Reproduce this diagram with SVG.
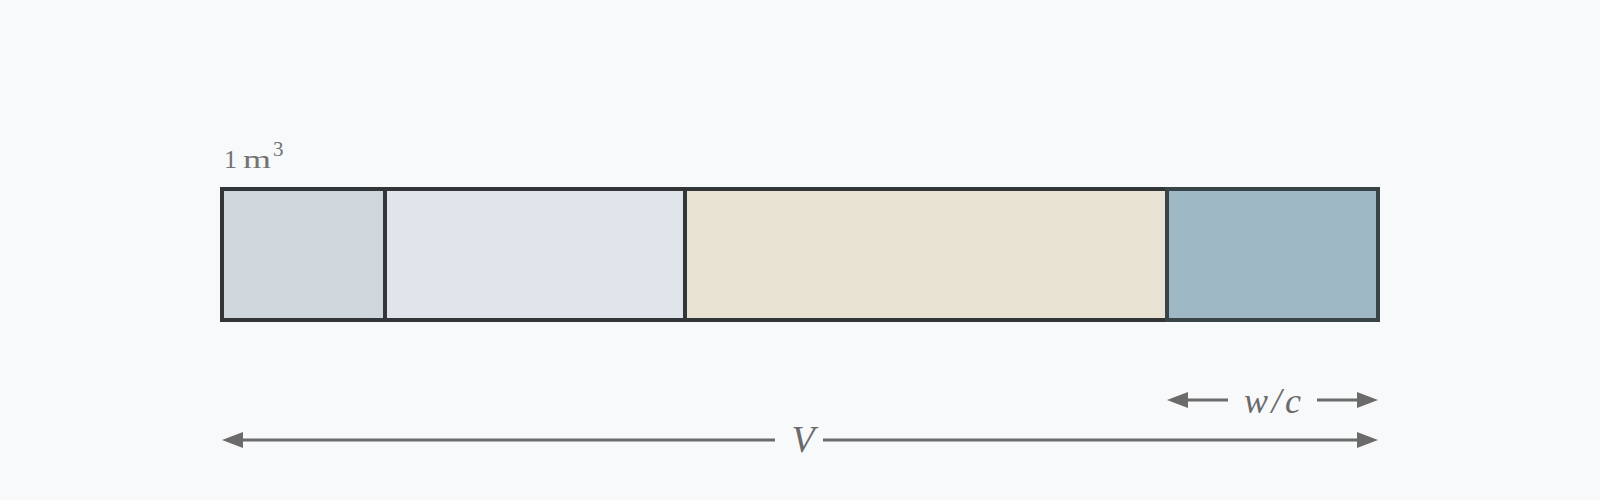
<svg xmlns="http://www.w3.org/2000/svg" width="1600" height="500" viewBox="0 0 1600 500">
  <defs>
    <marker id="ah" viewBox="0 0 21 16" refX="10" refY="8" markerWidth="21" markerHeight="16" markerUnits="userSpaceOnUse" orient="auto-start-reverse">
      <path d="M0,0 L21,8 L0,16 z" fill="#6b6b6b"/>
    </marker>
  </defs>
  <style>
    .cell { stroke: #333638; stroke-width: 4; }
    .dim { stroke: #6b6b6b; stroke-width: 3; fill: none; }
    .lbl { font-family: "Liberation Serif", "Times New Roman", serif; fill: #737373; }
    .math { font-family: "Liberation Serif", "Times New Roman", serif; font-style: italic; fill: #6b6b6b; }
  </style>
  <rect x="0" y="0" width="1600" height="500" fill="#f8f9fb"/>

  <g id="cell-1">
    <rect class="cell" x="222" y="189" width="163" height="131" fill="#cfd7dd"/>
  </g>
  <g id="cell-2">
    <rect class="cell" x="385" y="189" width="300" height="131" fill="#dfe5ea"/>
  </g>
  <g id="cell-3">
    <rect class="cell" x="685" y="189" width="482" height="131" fill="#e8e3d3"/>
  </g>
  <g id="cell-4">
    <rect x="1167" y="189" width="211" height="131" fill="#9eb8c5" stroke="#3a4447" stroke-width="4"/>
  </g>

  <g id="label-1m3">
    <text class="lbl" x="224" y="168" font-size="26">1</text>
    <text class="lbl" x="243" y="168" font-size="26" textLength="28" lengthAdjust="spacingAndGlyphs">m</text>
    <text class="lbl" x="273" y="156" font-size="21">3</text>
  </g>

  <g id="connectors">
    <line class="dim" x1="1178" y1="400" x2="1228" y2="400" marker-start="url(#ah)"/>
    <line class="dim" x1="1317" y1="400" x2="1367" y2="400" marker-end="url(#ah)"/>
    <line class="dim" x1="233" y1="440" x2="775" y2="440" marker-start="url(#ah)"/>
    <line class="dim" x1="823" y1="440" x2="1367" y2="440" marker-end="url(#ah)"/>
  </g>

  <g id="label-wc">
    <text class="math" x="1244" y="413" font-size="36" textLength="57" lengthAdjust="spacing">w/c</text>
  </g>
  <g id="label-V">
    <text class="math" x="803" y="452" font-size="38" text-anchor="middle">V</text>
  </g>
</svg>
